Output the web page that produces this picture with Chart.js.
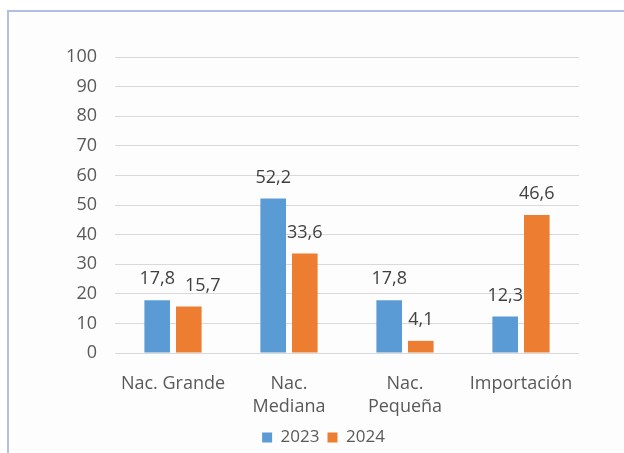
<!DOCTYPE html>
<html>
<head>
<meta charset="utf-8">
<script src="https://cdn.jsdelivr.net/npm/chart.js@4"></script>
<style>
  html, body { margin: 0; padding: 0; background: #ffffff; }
  #wrap { position: relative; width: 624px; height: 453px; overflow: hidden; }
  #frame { position: absolute; left: 7px; top: 10px; width: 700px; height: 500px;
           border-top: 2px solid #b3bfe0; border-left: 2px solid #b3bfe0; background: #fdfdfd; }
  canvas { position: absolute; left: 0; top: 0; }
</style>
</head>
<body>
<div id="wrap">
  <div id="frame"></div>
  <canvas id="c" width="624" height="453"></canvas>
</div>
<script>
const categories = [["Nac. Grande"], ["Nac.", "Mediana"], ["Nac.", "Pequeña"], ["Importación"]];
const seriesNames = ["2023", "2024"];
const values2023 = [17.8, 52.2, 17.8, 12.3];
const values2024 = [15.7, 33.6, 4.1, 46.6];
const yTicks = [0, 10, 20, 30, 40, 50, 60, 70, 80, 90, 100];

const FONT = "'Open Sans', 'Noto Sans', sans-serif";

// value labels above bars, nudged sideways when two labels collide
const labelPlugin = {
  id: 'valueLabels',
  afterDatasetsDraw(chart) {
    const ctx = chart.ctx;
    ctx.save();
    ctx.font = "18px " + FONT;
    ctx.fillStyle = '#404040';
    ctx.textAlign = 'center';
    ctx.textBaseline = 'middle';
    const h = 18;
    const nCat = chart.data.labels.length;
    for (let i = 0; i < nCat; i++) {
      let prev = null;
      chart.data.datasets.forEach((ds, di) => {
        const bar = chart.getDatasetMeta(di).data[i];
        const txt = ds.data[i].toFixed(1).replace('.', ',');
        const w = ctx.measureText(txt).width;
        let x = bar.x;
        const y = bar.y - 21;
        if (prev) {
          const overlapY = Math.abs(prev.y - y) < h;
          const leftEdge = x - w / 2;
          if (overlapY && leftEdge < prev.right + 10) {
            x += prev.right + 10 - leftEdge;
          }
        }
        ctx.fillText(txt, x, y);
        prev = { right: x + w / 2, y: y };
      });
    }
    ctx.restore();
  }
};

// shift the legend block, as in the source picture
const legendShift = {
  id: 'legendShift',
  afterLayout(chart) {
    const lg = chart.legend;
    if (lg) { lg.left += 34; lg.right += 34; lg.top += 3; lg.bottom += 3; }
  }
};

new Chart(document.getElementById('c'), {
  type: 'bar',
  data: {
    labels: categories,
    datasets: [
      { label: seriesNames[0], data: values2023, backgroundColor: '#5B9BD5',
        categoryPercentage: 0.545, barPercentage: 0.81 },
      { label: seriesNames[1], data: values2024, backgroundColor: '#ED7D31',
        categoryPercentage: 0.545, barPercentage: 0.81 }
    ]
  },
  options: {
    responsive: false,
    animation: false,
    devicePixelRatio: 1,
    layout: { padding: { top: 57, right: 45, bottom: 0, left: 0 } },
    plugins: {
      legend: {
        position: 'bottom',
        labels: {
          font: { family: FONT, size: 17 },
          color: '#595959',
          boxWidth: 10,
          boxHeight: 10,
          padding: 8
        }
      },
      tooltip: { enabled: false }
    },
    scales: {
      x: {
        grid: { display: false },
        border: { display: false },
        ticks: {
          font: { family: FONT, size: 18, lineHeight: 1.3 },
          color: '#595959',
          padding: 11,
          maxRotation: 0,
          autoSkip: false
        },
        afterFit(scale) { scale.height = 65; }
      },
      y: {
        min: 0,
        max: 100,
        afterBuildTicks(scale) { scale.ticks = yTicks.map(v => ({ value: v })); },
        grid: { color: '#d9d9d9', lineWidth: 1, drawTicks: false },
        border: { display: false },
        ticks: {
          font: { family: FONT, size: 18 },
          color: '#595959',
          padding: 18
        },
        afterFit(scale) { scale.width = 115; }
      }
    }
  },
  plugins: [labelPlugin, legendShift]
});
</script>
</body>
</html>
